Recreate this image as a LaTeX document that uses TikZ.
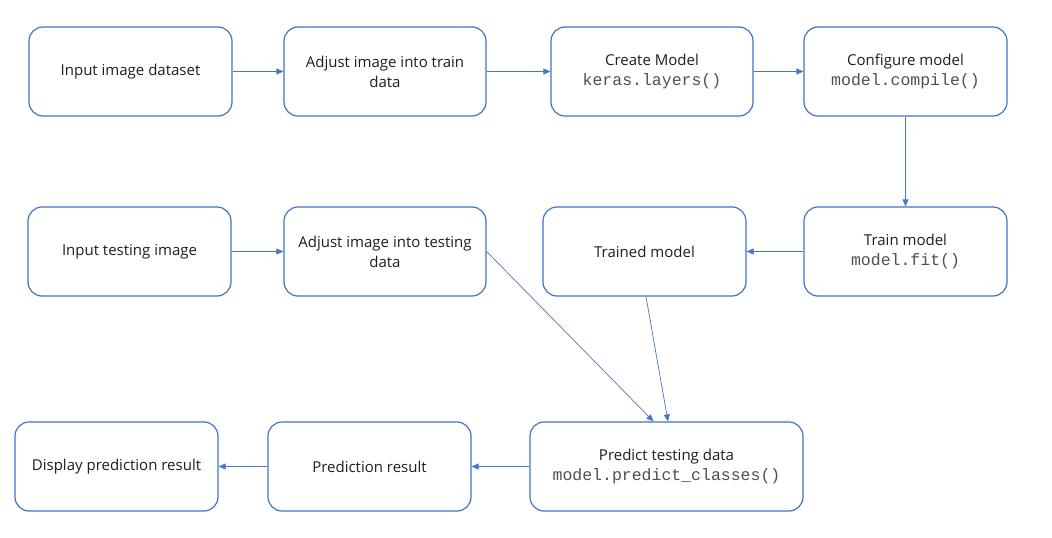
\documentclass[tikz,border=0pt]{standalone}
\usepackage{fontspec}
\setmainfont{Open Sans}
\setmonofont{Liberation Mono}
\usetikzlibrary{arrows.meta}
\definecolor{boxblue}{HTML}{4472C4}
\definecolor{arrblue}{HTML}{4A76C6}
\definecolor{txt}{HTML}{1E1E1E}
\definecolor{mono}{HTML}{505050}
\newcommand{\code}[1]{{\fontsize{16.5}{21}\selectfont\ttfamily\color{mono}#1}}
\tikzset{
  box/.style={draw=boxblue, line width=1.2pt, rounded corners=14pt, fill=white,
    minimum width=203pt, minimum height=89pt, inner sep=0pt, align=center,
    text=txt, font=\fontsize{15}{20}\selectfont},
  conn/.style={draw=arrblue, line width=0.7pt, -{Triangle[length=7pt,width=6pt]}}
}
\begin{document}
\begin{tikzpicture}[x=1pt,y=-1pt]
\useasboundingbox (0,0) rectangle (1052,538);
\node[box] (A) at (130.5,71.5) {Input image dataset};
\node[box, minimum width=202pt] (B) at (385,71.5) {Adjust image into train\\data};
\node[box, minimum width=202pt] (C) at (652,71.5) {Create Model\\\code{keras.layers()}};
\node[box] (D) at (905.5,71.5) {Configure model\\\code{model.compile()}};
\node[box] (E) at (129.5,251.5) {Input testing image};
\node[box, minimum width=202pt] (F) at (385,251.5) {Adjust image into testing\\data};
\node[box] (G) at (644.5,251.5) {Trained model};
\node[box] (H) at (905.5,251.5) {Train model\\\code{model.fit()}};
\node[box] (I) at (116.5,466.5) {Display prediction result};
\node[box] (J) at (369.5,466.5) {Prediction result};
\node[box, minimum width=273pt] (K) at (666.5,466.5) {Predict testing data\\\code{model.predict\_classes()}};
\draw[conn] (A) -- (B);
\draw[conn] (B) -- (C);
\draw[conn] (C) -- (D);
\draw[conn] (D) -- (H);
\draw[conn] (H) -- (G);
\draw[conn] (E) -- (F);
\draw[conn] (F.east) -- ([xshift=-13pt]K.north);
\draw[conn] ([xshift=1.5pt]G.south) -- ([xshift=1.5pt]K.north);
\draw[conn] (K) -- (J);
\draw[conn] (J) -- (I);
\end{tikzpicture}
\end{document}
